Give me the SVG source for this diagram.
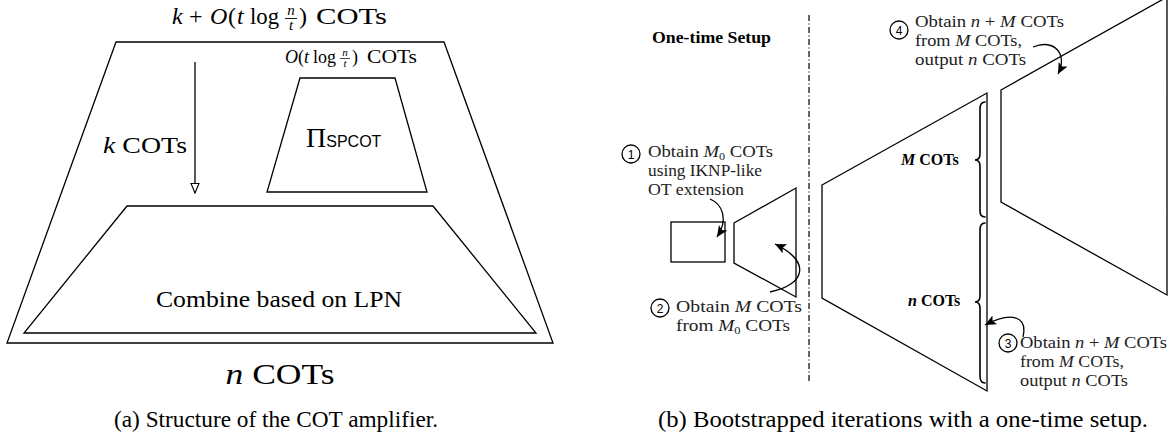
<svg xmlns="http://www.w3.org/2000/svg" width="1173" height="438" viewBox="0 0 1173 438">
<style>
  .shape { fill: none; stroke: #000; stroke-width: 1.3; stroke-linejoin: miter; }
  .conn { fill: none; stroke: #000; stroke-width: 1.3; }
  .brace { fill: none; stroke: #000; stroke-width: 1.6; stroke-linecap: round; }
  .serif { font-family: "Liberation Serif", "DejaVu Serif", "Noto Serif", serif; fill: #000; }
  .sans { font-family: "Liberation Sans", "DejaVu Sans", sans-serif; fill: #000; }
  .it { font-style: italic; }
  .ann { font-family: "Liberation Serif", "DejaVu Serif", "Noto Serif", serif; font-size: 17px; fill: #222; }
  .num { font-family: "Liberation Sans", "DejaVu Sans", sans-serif; font-size: 12px; fill: #000; text-anchor: middle; }
  .circ { fill: #fff; stroke: #000; stroke-width: 1.3; }
  .cap { font-family: "Liberation Serif", "DejaVu Serif", "Noto Serif", serif; font-size: 24px; fill: #000; }
</style>
<defs>
  <marker id="openTri" markerUnits="userSpaceOnUse" markerWidth="12" markerHeight="12" refX="10" refY="4.5" orient="auto">
    <path d="M0.5,0.5 L10,4.5 L0.5,8.5 z" fill="#fff" stroke="#000" stroke-width="1.1"/>
  </marker>
  <marker id="solidTri" markerUnits="userSpaceOnUse" markerWidth="14" markerHeight="12" refX="11" refY="5" orient="auto">
    <path d="M0,0 L11,5 L0,10 L2.5,5 z" fill="#000"/>
  </marker>
</defs>

<!-- ===== Panel (a) ===== -->
<g id="amplifier">
  <polygon class="shape" points="116,42 444,42 553,343 7,343"/>
</g>
<g id="top-label">
  <text class="serif it" x="172" y="24" font-size="24">k</text>
  <text class="serif" x="189" y="24" font-size="24">+</text>
  <text class="serif it" x="210" y="24" font-size="24">O</text>
  <text class="serif" x="228" y="24" font-size="24">(</text>
  <text class="serif it" x="237" y="24" font-size="24">t</text>
  <text class="serif" x="250" y="24" font-size="24" textLength="29" lengthAdjust="spacingAndGlyphs">log</text>
  <text class="serif it" x="291" y="15" font-size="15" text-anchor="middle">n</text>
  <line x1="285" y1="18.5" x2="297" y2="18.5" stroke="#000" stroke-width="0.9"/>
  <text class="serif it" x="291" y="30" font-size="15" text-anchor="middle">t</text>
  <text class="serif" x="299" y="24" font-size="24">)</text>
  <text class="serif" x="316" y="24" font-size="24" textLength="71" lengthAdjust="spacingAndGlyphs">COTs</text>
</g>
<g id="spcot">
  <polygon class="shape" points="300,78 395,78 427,192 267,192"/>
  <text class="serif" x="306" y="147" font-size="28">Π<tspan class="sans" font-size="16">SPCOT</tspan></text>
</g>
<g id="spcot-label">
  <text class="serif it" x="285" y="63" font-size="18">O</text>
  <text class="serif" x="298" y="63" font-size="18">(</text>
  <text class="serif it" x="304" y="63" font-size="18">t</text>
  <text class="serif" x="313" y="63" font-size="18" textLength="23" lengthAdjust="spacingAndGlyphs">log</text>
  <text class="serif it" x="345" y="56" font-size="11" text-anchor="middle">n</text>
  <line x1="340" y1="58.5" x2="350" y2="58.5" stroke="#000" stroke-width="0.7"/>
  <text class="serif it" x="345" y="67" font-size="11" text-anchor="middle">t</text>
  <text class="serif" x="352" y="63" font-size="18">)</text>
  <text class="serif" x="367" y="63" font-size="18" textLength="50" lengthAdjust="spacingAndGlyphs">COTs</text>
</g>
<g id="combine">
  <polygon class="shape" points="127,206 433,206 536,333 24,333"/>
  <text class="serif" x="279" y="307" font-size="23" text-anchor="middle" textLength="246" lengthAdjust="spacingAndGlyphs">Combine based on LPN</text>
</g>
<g id="k-label">
  <text class="serif" x="103" y="153" font-size="24" textLength="84" lengthAdjust="spacingAndGlyphs"><tspan class="it">k</tspan> COTs</text>
</g>
<g id="n-label">
  <text class="serif" x="280" y="384" font-size="30" text-anchor="middle" textLength="109" lengthAdjust="spacingAndGlyphs"><tspan class="it">n</tspan> COTs</text>
</g>
<g id="caption-a">
  <text class="cap" x="114" y="427" textLength="324" lengthAdjust="spacingAndGlyphs">(a) Structure of the COT amplifier.</text>
</g>

<!-- ===== Panel (b) ===== -->
<g id="setup-title">
  <text class="serif" x="652" y="43" font-size="17" font-weight="bold" textLength="119" lengthAdjust="spacingAndGlyphs">One-time Setup</text>
</g>
<g id="divider">
  <line x1="809" y1="15" x2="809" y2="383" stroke="#000" stroke-width="1.2" stroke-dasharray="6 2.5 1 2.5"/>
</g>
<g id="base-box">
  <rect class="shape" x="671" y="222" width="54" height="40"/>
</g>
<g id="setup-extender">
  <polygon class="shape" points="734,223 796,188 796,297 734,263"/>
</g>
<g id="iteration-1">
  <polygon class="shape" points="822,185 987,93 987,391 822,298"/>
</g>
<g id="iteration-2">
  <polygon class="shape" points="1001,90 1167,-3 1167,295 1001,202"/>
</g>
<g id="brace-M">
  <path class="brace" d="M985,102 Q980,102 980,109 L980,154 Q980,160 975,160 Q980,160 980,166 L980,211 Q980,217 985,217"/>
  <text class="serif" x="901" y="165" font-size="16" font-weight="bold"><tspan class="it">M</tspan> COTs</text>
</g>
<g id="brace-n">
  <path class="brace" d="M985,223 Q980,223 980,230 L980,296 Q980,302 975,302 Q980,302 980,308 L980,376 Q980,383 985,383"/>
  <text class="serif" x="908" y="306" font-size="16" font-weight="bold"><tspan class="it">n</tspan> COTs</text>
</g>
<g id="step-1">
  <circle class="circ" cx="631" cy="154" r="9"/>
  <text class="num" x="631" y="158.5">1</text>
  <text class="ann" x="648" y="157" textLength="125" lengthAdjust="spacingAndGlyphs">Obtain <tspan class="it">M</tspan><tspan font-size="11" dy="3">0</tspan><tspan dy="-3"> COTs</tspan></text>
  <text class="ann" x="648" y="176" textLength="114" lengthAdjust="spacingAndGlyphs">using IKNP-like</text>
  <text class="ann" x="648" y="195" textLength="96" lengthAdjust="spacingAndGlyphs">OT extension</text>
</g>
<g id="step-2">
  <circle class="circ" cx="660" cy="308" r="9"/>
  <text class="num" x="660" y="312.5">2</text>
  <text class="ann" x="676" y="312" textLength="126" lengthAdjust="spacingAndGlyphs">Obtain <tspan class="it">M</tspan> COTs</text>
  <text class="ann" x="676" y="331" textLength="114" lengthAdjust="spacingAndGlyphs">from <tspan class="it">M</tspan><tspan font-size="11" dy="3">0</tspan><tspan dy="-3"> COTs</tspan></text>
</g>
<g id="step-3">
  <circle class="circ" cx="1008" cy="343" r="9"/>
  <text class="num" x="1008" y="347.5">3</text>
  <text class="ann" x="1020" y="348" textLength="147" lengthAdjust="spacingAndGlyphs">Obtain <tspan class="it">n</tspan> + <tspan class="it">M</tspan> COTs</text>
  <text class="ann" x="1020" y="367" textLength="104" lengthAdjust="spacingAndGlyphs">from <tspan class="it">M</tspan> COTs,</text>
  <text class="ann" x="1020" y="386" textLength="108" lengthAdjust="spacingAndGlyphs">output <tspan class="it">n</tspan> COTs</text>
</g>
<g id="step-4">
  <circle class="circ" cx="899" cy="30" r="9"/>
  <text class="num" x="899" y="34.5">4</text>
  <text class="ann" x="915" y="27" textLength="149" lengthAdjust="spacingAndGlyphs">Obtain <tspan class="it">n</tspan> + <tspan class="it">M</tspan> COTs</text>
  <text class="ann" x="915" y="46" textLength="107" lengthAdjust="spacingAndGlyphs">from <tspan class="it">M</tspan> COTs,</text>
  <text class="ann" x="915" y="65" textLength="111" lengthAdjust="spacingAndGlyphs">output <tspan class="it">n</tspan> COTs</text>
</g>
<g id="caption-b">
  <text class="cap" x="658" y="427" textLength="490" lengthAdjust="spacingAndGlyphs">(b) Bootstrapped iterations with a one-time setup.</text>
</g>

<!-- ===== Connectors ===== -->
<g id="connectors">
  <line class="conn" x1="195" y1="62" x2="195" y2="193" marker-end="url(#openTri)"/>
  <path class="conn" d="M710,199 C722,204 729,219 717,237" marker-end="url(#solidTri)"/>
  <path class="conn" d="M770,292 C805,285 812,262 775,244" marker-end="url(#solidTri)"/>
  <path class="conn" d="M1023,337 C1028,315 1010,312 985,325" marker-end="url(#solidTri)"/>
  <path class="conn" d="M1033,47 C1055,38 1068,55 1058,74" marker-end="url(#solidTri)"/>
</g>
</svg>
